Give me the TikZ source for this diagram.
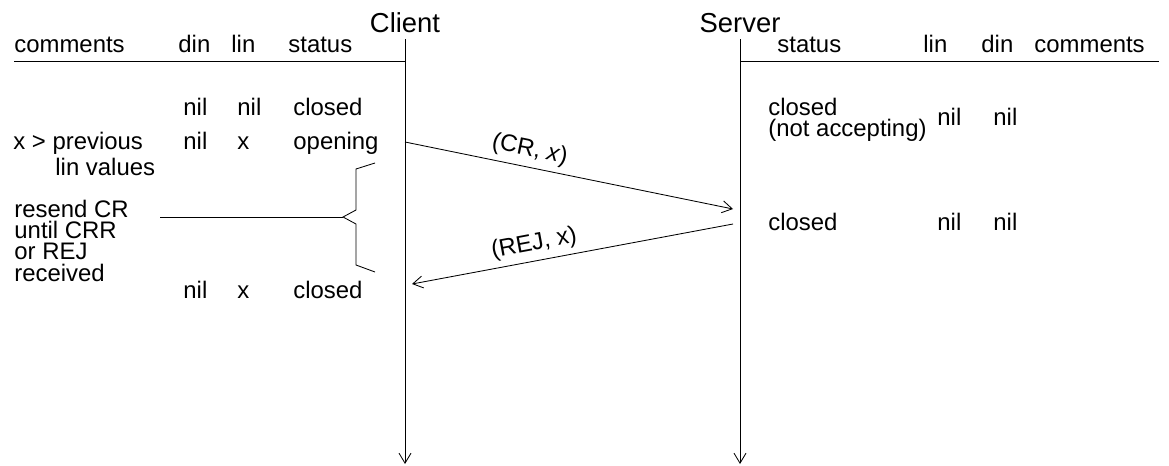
\documentclass[tikz,border=0pt]{standalone}
\usepackage{fontspec}
\setmainfont{Liberation Sans}
\usetikzlibrary{arrows.meta}

\begin{document}
\begin{tikzpicture}[x=0.025cm, y=-0.025cm, line width=0.6pt, >={Straight Barb[length=2.5mm,width=3mm]}]
			\tikzstyle{txt}=[
			inner sep=0pt,
			anchor=base west,
			font=\fontsize{17}{14}\selectfont]
			\tikzstyle{multi}=[
			inner sep=0pt,
			anchor=north west,
			align=left,
			font=\fontsize{17}{15}\selectfont]
			\tikzstyle{head}=[
			inner sep=4pt,
			anchor=base,
			font=\fontsize{19.5}{22}\selectfont]
			\tikzstyle{msg}=[
			sloped,
			above,
			inner sep=4pt,
			font=\fontsize{17}{14}\selectfont]
			\useasboundingbox (0,0) rectangle (1169,466);
			%
			\node[head] (C) at (405,33) {Client};
			\node[head] (S) at (740,33) {Server};
			\coordinate (C_end) at (405,464);
			\coordinate (S_end) at (740,464);
			%
			\node[txt] (C_com) at (14,53) {comments};
			\node[txt] (C_din) at (178,53) {din};
			\node[txt] (C_lin) at (231,53) {lin};
			\node[txt] (C_st) at (288,53) {status};
			\node[txt] (S_st) at (777,53) {status};
			\node[txt] (S_lin) at (923,53) {lin};
			\node[txt] (S_din) at (981,53) {din};
			\node[txt] (S_com) at (1034,53) {comments};
			\coordinate (C_hl) at (14,61);
			\coordinate (S_hr) at (1159,61);
			%
			\node[txt] (C_din1) at (183,115) {nil};
			\node[txt] (C_lin1) at (237,115) {nil};
			\node[txt] (C_st1) at (293,115) {closed};
			\node[txt] (C_com2) at (13,149) {x > previous};
			\node[txt] (C_com2b) at (55,175) {lin values};
			\node[txt] (C_din2) at (183,149) {nil};
			\node[txt] (C_lin2) at (237,149) {x};
			\node[txt] (C_st2) at (293,149) {opening};
			\node[multi] (C_com3) at (14,200) {resend CR\\until CRR\\or REJ\\received};
			\node[txt] (C_din3) at (183,298) {nil};
			\node[txt] (C_lin3) at (237,298) {x};
			\node[txt] (C_st3) at (293,298) {closed};
			%
			\node[multi] (S_st1) at (768,98) {closed\\(not accepting)};
			\node[txt] (S_lin1) at (937,125) {nil};
			\node[txt] (S_din1) at (993,125) {nil};
			\node[txt] (S_st2) at (768,230) {closed};
			\node[txt] (S_lin2) at (937,230) {nil};
			\node[txt] (S_din2) at (993,230) {nil};
			%
			\draw[->] (C.south) -- (C_end);
			\draw[->] (S.south) -- (S_end);
			\draw (C_hl) -- (C_hl -| C.south);
			\draw (S_hr) -- (S_hr -| S.south);
			%
			\coordinate (cr_a) at (405,142);
			\coordinate (cr_b) at (733,209);
			\coordinate (rej_a) at (733,224);
			\coordinate (rej_b) at (412,284);
			\draw[->] (cr_a) -- node[msg, pos=0.37] {(CR, \textit{x})} (cr_b);
			\draw[->] (rej_a) -- node[msg, pos=0.61] {(REJ, x)} (rej_b);
			%
			\coordinate (br) at (343,217);
			\coordinate (br_l) at (160,217);
			\draw (br) ++(32,-54) -- ++(-19,6) -- ++(0,41) -- ++(-13,7) -- ++(13,7) -- ++(0,41) -- ++(19,7);
			\draw (br_l) -- (br);
		\end{tikzpicture}
\end{document}
